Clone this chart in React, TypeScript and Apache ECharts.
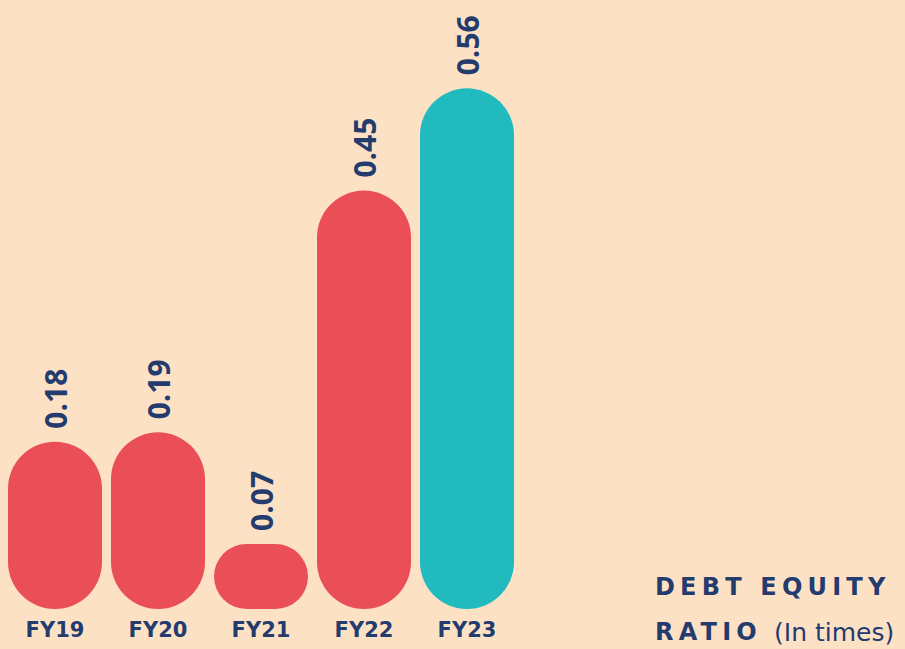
import React, { useEffect, useRef } from "react";
import * as echarts from "echarts";

const categories = ["FY19", "FY20", "FY21", "FY22", "FY23"];
const values = [0.18, 0.19, 0.07, 0.45, 0.56];
const barColors = ["#EA4F57", "#EA4F57", "#EA4F57", "#EA4F57", "#21BBBF"];
const titleLine1 = "DEBT EQUITY";
const titleLine2 = "RATIO";
const titleUnit = "(In times)";

const BG = "#FDE1C4";
const NAVY = "#243B6E";
const FONT = "'Open Sans', 'Noto Sans', sans-serif";
const WIDE = "'DejaVu Sans', sans-serif";

export default function App() {
  const ref = useRef<HTMLDivElement>(null);
  useEffect(() => {
    if (!ref.current) return;
    const chart = echarts.init(ref.current, undefined, { renderer: "svg" });
    chart.setOption({
      animation: false,
      backgroundColor: BG,
      grid: { left: 3.5, width: 515, top: 0, bottom: 40, containLabel: false },
      xAxis: {
        type: "category",
        data: categories,
        axisLine: { show: false },
        axisTick: { show: false },
        axisLabel: {
          color: NAVY,
          fontFamily: WIDE,
          fontWeight: "bold",
          fontSize: 21,
          margin: 10,
        },
      },
      yAxis: {
        type: "value",
        min: 0,
        max: 0.655,
        show: false,
        splitLine: { show: false },
      },
      series: [
        {
          type: "bar",
          barWidth: 94,
          data: values.map((v, i) => ({ value: v, itemStyle: { color: barColors[i] } })),
          itemStyle: { borderRadius: 47 },
          label: {
            show: true,
            position: "top",
            rotate: 90,
            align: "left",
            verticalAlign: "middle",
            distance: 13,
            color: NAVY,
            fontFamily: FONT,
            fontWeight: "bold",
            fontSize: 30,
            formatter: (p: any) => Number(p.value).toFixed(2),
          },
        },
      ],
      graphic: [
        {
          type: "text",
          id: "t1",
          x: 655,
          y: 587,
          style: {
            text: titleLine1,
            fill: NAVY,
            font: `bold 24px ${WIDE}`,
            textAlign: "left",
            textVerticalAlign: "middle",
          },
        },
        {
          type: "text",
          id: "t2",
          x: 655,
          y: 632,
          style: {
            text: titleLine2,
            fill: NAVY,
            font: `bold 24px ${WIDE}`,
            textAlign: "left",
            textVerticalAlign: "middle",
          },
        },
        {
          type: "text",
          id: "t3",
          x: 774,
          y: 632,
          style: {
            text: titleUnit,
            fill: NAVY,
            font: `normal 25px ${WIDE}`,
            textAlign: "left",
            textVerticalAlign: "middle",
          },
        },
      ],
    });
    const svg = ref.current.querySelectorAll("text");
    svg.forEach((t) => {
      const c = t.textContent;
      if (c === titleLine1 || c === titleLine2) {
        t.setAttribute("letter-spacing", "5.2");
      }
    });
    return () => chart.dispose();
  }, []);
  return (
    <div
      ref={ref}
      style={{ position: "absolute", left: 0, top: 0, width: 905, height: 649 }}
    />
  );
}
